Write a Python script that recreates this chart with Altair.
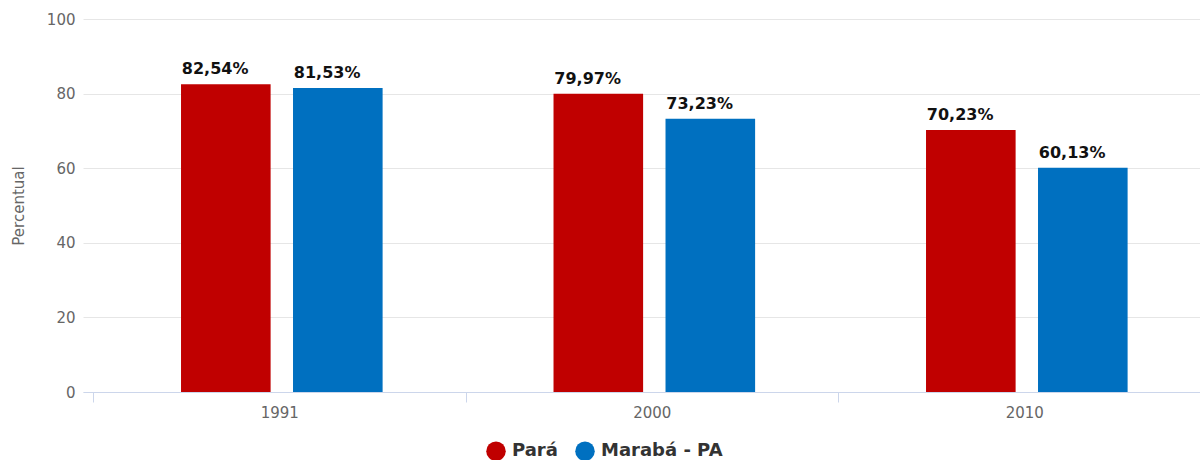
import altair as alt
import pandas as pd

years = ["1991", "2000", "2010"]
series_names = ["Pará", "Marabá - PA"]
para = [82.54, 79.97, 70.23]
maraba = [81.53, 73.23, 60.13]
colors = ["#c00000", "#0070c0"]

rows = []
for i, y in enumerate(years):
    for name, vals in zip(series_names, [para, maraba]):
        v = vals[i]
        rows.append({"ano": y, "serie": name, "valor": v,
                     "rotulo": f"{v:.2f}".replace(".", ",") + "%"})
df = pd.DataFrame(rows)

FONT = "DejaVu Sans"
PLOT_W = 1117
STEP = 372.5
OUTER = 10

x_enc = alt.X("ano:N", sort=years, title=None,
              scale=alt.Scale(range=[0, 3 * STEP + 2 * OUTER],
                              paddingInner=0, paddingOuter=OUTER / STEP),
              axis=alt.Axis(labelAngle=0, tickBand="extent", domainColor="#ccd6eb",
                            tickColor="#ccd6eb", tickSize=10, labelPadding=3,
                            labelFont=FONT, labelFontSize=15, labelColor="#666666",
                            grid=False))
xoff = alt.XOffset("serie:N", sort=series_names,
                   scale=alt.Scale(paddingInner=0.2, paddingOuter=0.763, align=0.515))
y_enc = alt.Y("valor:Q", title="Percentual",
              scale=alt.Scale(domain=[0, 100], nice=False),
              axis=alt.Axis(values=[0, 20, 40, 60, 80, 100], domain=False, ticks=False,
                            labelPadding=8, labelFont=FONT, labelFontSize=15,
                            labelColor="#666666", gridColor="#e6e6e6",
                            titleFont=FONT, titleFontSize=15, titleFontWeight="normal",
                            titleColor="#666666", titleAngle=-90, titleX=-65,
                            titleY=186.5, titleAlign="center", titleBaseline="middle"))

color = alt.Color("serie:N", sort=series_names,
                  scale=alt.Scale(domain=series_names, range=colors),
                  legend=alt.Legend(title=None, orient="none", direction="horizontal",
                                    legendX=403, legendY=422, symbolType="circle",
                                    symbolSize=380, symbolStrokeWidth=0,
                                    labelFont=FONT, labelFontSize=18,
                                    labelFontWeight="bold", labelColor="#333333",
                                    labelOffset=6, columnPadding=17, padding=0))

base = alt.Chart(df)
bars = base.mark_bar().encode(x=x_enc, xOffset=xoff, y=y_enc, color=color)
labels = base.mark_text(align="left", baseline="bottom", dx=-44, dy=-7, font=FONT,
                        fontSize=16, fontWeight="bold", color="#111111").encode(
    x=alt.X("ano:N", sort=years), xOffset=alt.XOffset("serie:N", sort=series_names),
    y="valor:Q", text="rotulo:N")

chart = alt.layer(bars, labels).properties(
    width=PLOT_W, height=373,
    autosize=alt.AutoSizeParams(type="none"),
    padding={"left": 83, "top": 19, "right": 0, "bottom": 68},
    background="white",
).configure_view(stroke=None)

chart.save("out.html", embed_options={"renderer": "svg", "actions": False})
